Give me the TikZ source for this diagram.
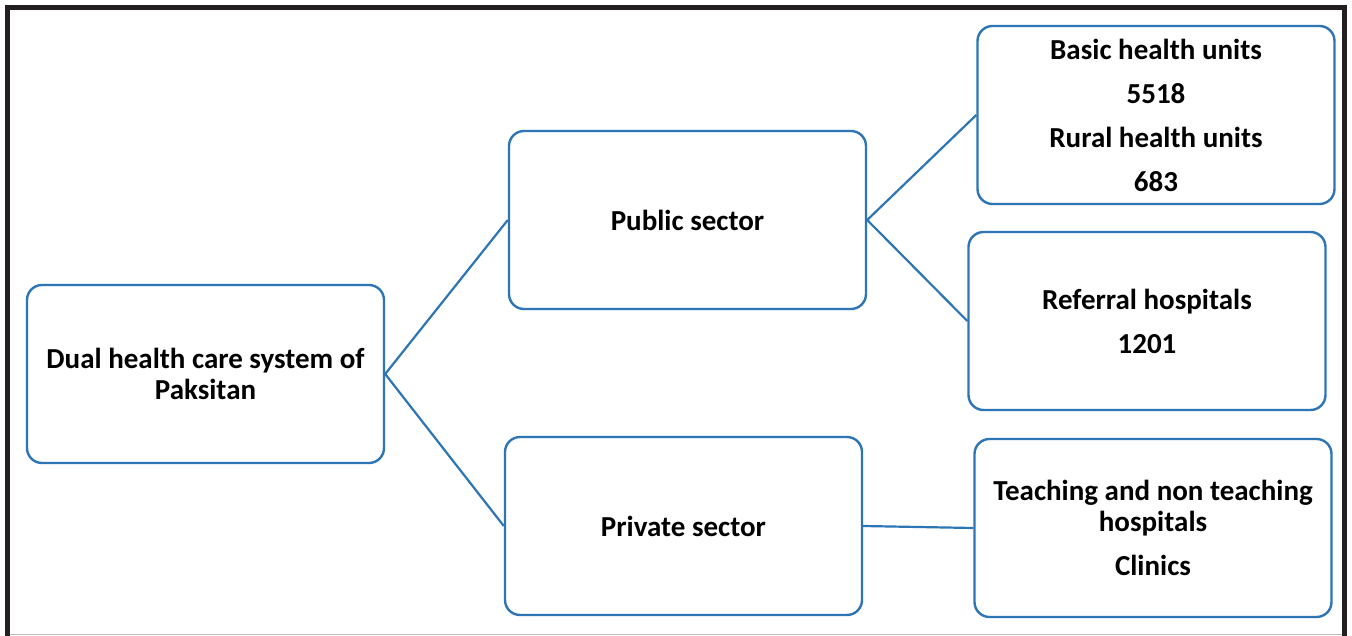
\documentclass[tikz,border=0pt]{standalone}
\usepackage{fontspec}
\setmainfont{Carlito}
\usepackage{xcolor}
\definecolor{boxblue}{RGB}{46,117,182}
\definecolor{framegray}{RGB}{35,31,32}

\begin{document}
\begin{tikzpicture}[x=1pt,y=-1pt,
    sectorbox/.style={draw=boxblue, line width=2.4pt, rounded corners=15pt,
      minimum width=357pt, minimum height=178pt, align=center,
      font=\fontsize{29}{31}\selectfont\bfseries, inner sep=0pt},
    link/.style={draw=boxblue, line width=2.2pt}]
      \useasboundingbox (0,0) rectangle (1352,636);
      \fill[white] (0,0) rectangle (1352,636);
      \draw[framegray, line width=4.5pt] (7.5,636) -- (7.5,7.5) -- (1344.5,7.5) -- (1344.5,636);
      \draw[black!25, line width=1pt] (10,634.5) -- (1342,634.5);

      \node[sectorbox] (dual) at (205.5,374) {Dual health care system of\\Paksitan};
      \node[sectorbox] (public) at (687.5,220) {Public sector};
      \node[sectorbox] (private) at (683.5,526) {Private sector};
      \node[sectorbox] (basic) at (1156,115) {Basic health units\\[13pt]5518\\[13pt]Rural health units\\[13pt]683};
      \node[sectorbox] (referral) at (1147,321) {Referral hospitals\\[13pt]1201};
      \node[sectorbox] (teaching) at (1153,528) {Teaching and non teaching\\hospitals\\[13pt]Clinics};

      \draw[link] (dual.east) -- (public.west);
      \draw[link] (dual.east) -- (private.west);
      \draw[link] (public.east) -- (basic.west);
      \draw[link] (public.east) -- (referral.west);
      \draw[link] (private.east) -- (teaching.west);
    \end{tikzpicture}
\end{document}
